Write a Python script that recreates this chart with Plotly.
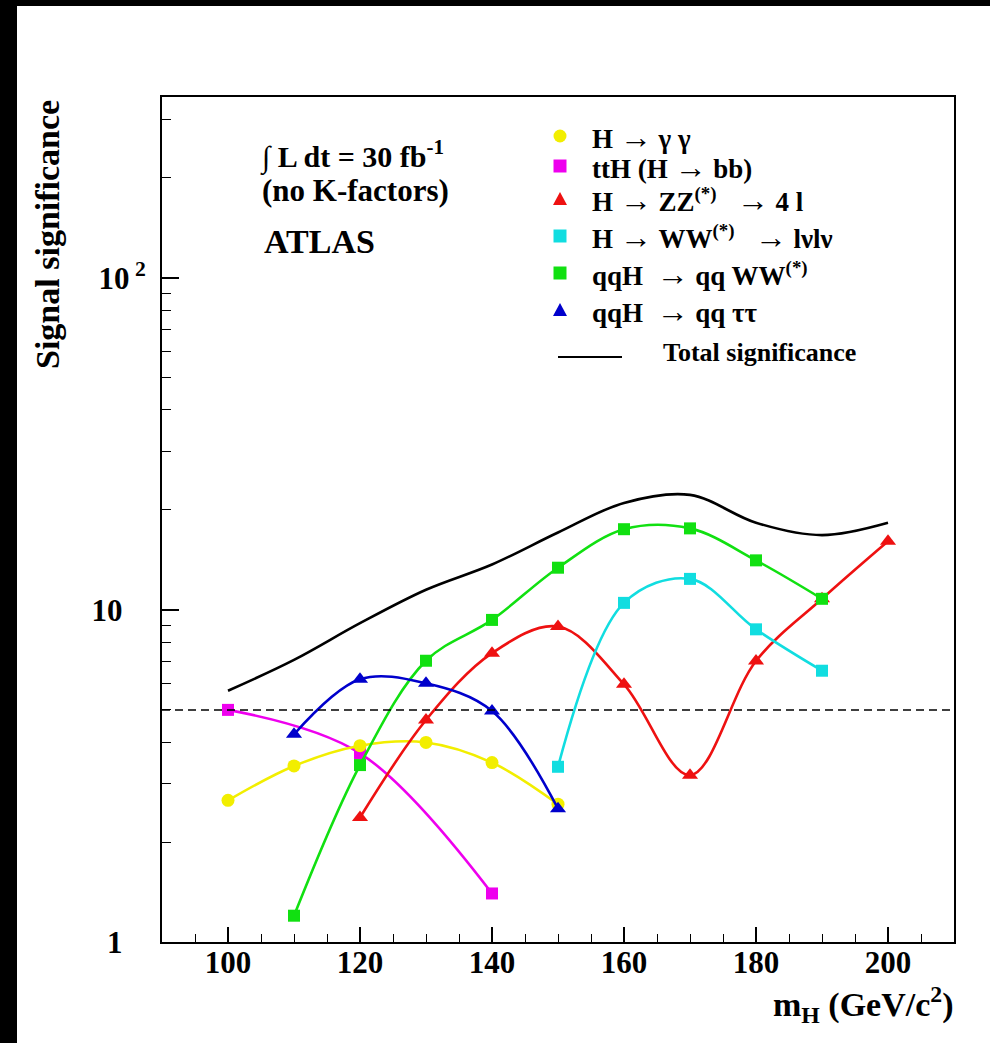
import plotly.graph_objects as go

# ---------------- data ----------------
gg_x = [100, 110, 120, 130, 140, 150]
gg_y = [2.67, 3.39, 3.90, 3.99, 3.47, 2.60]

tth_x = [100, 120, 140]
tth_y = [5.0, 3.70, 1.40]

zz_x = [120, 130, 140, 150, 160, 170, 180, 190, 200]
zz_y = [2.37, 4.66, 7.41, 8.91, 5.97, 3.18, 7.02, 10.8, 16.1]

ww_x = [150, 160, 170, 180, 190]
ww_y = [3.37, 10.5, 12.4, 8.74, 6.56]

qqww_x = [110, 120, 130, 140, 150, 160, 170, 180, 190]
qqww_y = [1.20, 3.41, 7.03, 9.33, 13.4, 17.5, 17.6, 14.1, 10.8]

qqtt_x = [110, 120, 130, 140, 150]
qqtt_y = [4.22, 6.18, 6.01, 4.96, 2.52]

total_x = [100, 110, 120, 130, 140, 150, 160, 170, 180, 190, 200]
total_y = [5.71, 7.07, 9.12, 11.5, 13.7, 17.1, 21.0, 22.2, 18.3, 16.8, 18.3]

discovery_level = 5.0

x_tick_vals = [100, 120, 140, 160, 180, 200]
y_tick_vals = [1, 10, 100]
y_tick_text = ["1\u00a0\u00a0\u00a0", "10\u00a0\u00a0\u00a0", "10<sup> 2</sup>"]
y_minor_vals = [2, 3, 4, 5, 6, 7, 8, 9, 20, 30, 40, 50, 60, 70, 80, 90, 200, 300]

NB = "\u00a0"
ARROW = "<span style='font-size:32px;font-weight:normal'>\u2192</span>"

legend_rows = [
    ("H" + NB + ARROW + NB + "\u03b3" + NB + "\u03b3", "circle", "#f2ee00"),
    ("ttH (H" + NB + ARROW + NB + "bb)", "square", "#ee00ee"),
    ("H" + NB + ARROW + NB + "ZZ<sup>(*)</sup>" + NB * 3 + ARROW + NB + "4 l", "triangle", "#ee1111"),
    ("H" + NB + ARROW + NB + "WW<sup>(*)</sup>" + NB * 3 + ARROW + NB + "l\u03bdl\u03bd", "square", "#11dde0"),
    ("qqH" + NB * 2 + ARROW + NB + "qq WW<sup>(*)</sup>", "square", "#11e011"),
    ("qqH" + NB * 2 + ARROW + NB + "qq \u03c4\u03c4", "triangle", "#0000cc"),
]

FONT = "Liberation Serif"

# ---------------- layout geometry helpers ----------------
W, H = 990, 1043
L, R, T, B = 162, 36, 97, 101
PW, PH = W - L - R, H - T - B


def px(x):
    return (x - L) / PW


def py(y):
    return (H - B - y) / PH


fig = go.Figure()

series = [
    (tth_x, tth_y, "#ee00ee", "square", 12, "ttH (H → bb)"),
    (gg_x, gg_y, "#f2ee00", "circle", 13, "H → γγ"),
    (zz_x, zz_y, "#ee1111", "triangle-up", 14, "H → ZZ → 4l"),
    (ww_x, ww_y, "#11dde0", "square", 12, "H → WW → lνlν"),
    (qqww_x, qqww_y, "#11e011", "square", 12, "qqH → qq WW"),
    (qqtt_x, qqtt_y, "#0000cc", "triangle-up", 14, "qqH → qq ττ"),
]
for xs, ys, col, sym, sz, name in series:
    fig.add_trace(go.Scatter(
        x=xs, y=ys, mode="lines+markers", name=name,
        line=dict(color=col, width=2.6, shape="spline", smoothing=1.0),
        marker=dict(color=col, symbol=sym, size=sz, line=dict(width=0)),
        showlegend=False,
    ))

fig.add_trace(go.Scatter(
    x=total_x, y=total_y, mode="lines", name="Total significance",
    line=dict(color="black", width=2.6, shape="spline", smoothing=1.0),
    showlegend=False,
))

shapes = []
# black border bands of the scanned picture
shapes.append(dict(type="rect", xref="paper", yref="paper", layer="below",
                   x0=px(-5), x1=px(17), y0=py(H + 5), y1=py(-5),
                   fillcolor="black", line=dict(width=0)))
shapes.append(dict(type="rect", xref="paper", yref="paper", layer="below",
                   x0=px(-5), x1=px(W + 5), y0=py(6), y1=py(-5),
                   fillcolor="black", line=dict(width=0)))
# 5 sigma line
shapes.append(dict(type="line", xref="paper", yref="y", x0=0, x1=1,
                   y0=discovery_level, y1=discovery_level,
                   line=dict(color="black", width=1.5, dash="8px,5px")))

annotations = []
# legend
row_y = [136, 166, 199, 236, 273, 310]
mx, ms = 560, 6.5
for (txt, kind, col), yy in zip(legend_rows, row_y):
    if kind == "circle":
        shapes.append(dict(type="circle", xref="paper", yref="paper",
                           x0=px(mx - ms), x1=px(mx + ms), y0=py(yy + ms), y1=py(yy - ms),
                           fillcolor=col, line=dict(width=0)))
    elif kind == "square":
        shapes.append(dict(type="rect", xref="paper", yref="paper",
                           x0=px(mx - ms), x1=px(mx + ms), y0=py(yy + ms), y1=py(yy - ms),
                           fillcolor=col, line=dict(width=0)))
    else:
        path = "M {:.5f},{:.5f} L {:.5f},{:.5f} L {:.5f},{:.5f} Z".format(
            px(mx - 7), py(yy + 6), px(mx + 7), py(yy + 6), px(mx), py(yy - 7))
        shapes.append(dict(type="path", xref="paper", yref="paper", path=path,
                           fillcolor=col, line=dict(width=0)))
    annotations.append(dict(xref="paper", yref="paper", x=px(590), y=py(yy + 1),
                            xanchor="left", yanchor="middle", showarrow=False,
                            text=txt, font=dict(family=FONT, size=27, color="black", weight="bold")))
# total significance legend entry
shapes.append(dict(type="line", xref="paper", yref="paper",
                   x0=px(558), x1=px(622), y0=py(357), y1=py(357),
                   line=dict(color="black", width=2)))
annotations.append(dict(xref="paper", yref="paper", x=px(661), y=py(352),
                        xanchor="left", yanchor="middle", showarrow=False,
                        text="Total significance",
                        font=dict(family=FONT, size=26, color="black", weight="bold")))

# info text
annotations.append(dict(xref="paper", yref="paper", x=px(258), y=py(155),
                        xanchor="left", yanchor="middle", showarrow=False,
                        text="\u222b L dt = 30 fb<sup>-1</sup>",
                        font=dict(family=FONT, size=30, color="black", weight="bold")))
annotations.append(dict(xref="paper", yref="paper", x=px(260), y=py(190),
                        xanchor="left", yanchor="middle", showarrow=False,
                        text="(no K-factors)",
                        font=dict(family=FONT, size=31, color="black", weight="bold")))
annotations.append(dict(xref="paper", yref="paper", x=px(262), y=py(241),
                        xanchor="left", yanchor="middle", showarrow=False,
                        text="ATLAS",
                        font=dict(family=FONT, size=34, color="black", weight="bold")))

# axis titles
annotations.append(dict(xref="paper", yref="paper", x=px(956), y=py(1004),
                        xanchor="right", yanchor="middle", showarrow=False,
                        text="m<sub>H</sub> (GeV/c<sup>2</sup>)",
                        font=dict(family=FONT, size=34, color="black", weight="bold")))
annotations.append(dict(xref="paper", yref="paper", x=px(47), y=py(235),
                        xanchor="center", yanchor="middle", showarrow=False, textangle=-90,
                        text="Signal significance",
                        font=dict(family=FONT, size=34, color="black", weight="bold")))

fig.update_layout(
    width=W, height=H,
    margin=dict(l=L, r=R, t=T, b=B, pad=0),
    paper_bgcolor="white", plot_bgcolor="white",
    font=dict(family=FONT, color="black", weight="bold"),
    shapes=shapes, annotations=annotations,
    showlegend=False,
)
fig.update_xaxes(
    range=[90, 210], showgrid=False, zeroline=False,
    showline=True, mirror=True, linecolor="black", linewidth=2,
    tickmode="array", tickvals=x_tick_vals,
    ticks="inside", ticklen=15, tickwidth=1.5, tickcolor="black",
    ticklabelstandoff=-8,
    tickfont=dict(family=FONT, size=31, color="black", weight="bold"),
    minor=dict(dtick=5, tick0=90, ticks="inside", ticklen=8, tickwidth=1.2, tickcolor="black", showgrid=False),
)
fig.update_yaxes(
    type="log", range=[0, 2.5445], showgrid=False, zeroline=False,
    showline=True, mirror=True, linecolor="black", linewidth=2,
    tickmode="array", tickvals=y_tick_vals, ticktext=y_tick_text,
    ticks="inside", ticklen=17, tickwidth=1.5, tickcolor="black",
    ticklabelstandoff=8,
    tickfont=dict(family=FONT, size=31, color="black", weight="bold"),
    minor=dict(tickmode="array", tickvals=y_minor_vals, ticks="inside", ticklen=9,
               tickwidth=1.2, tickcolor="black", showgrid=False),
)

fig.write_html(
    "out.html",
    post_script="document.body.style.margin='0';document.body.style.overflow='hidden';"
                "document.documentElement.style.overflow='hidden';"
                "document.body.style.background='white';"
                "document.documentElement.style.background='white';",
)
